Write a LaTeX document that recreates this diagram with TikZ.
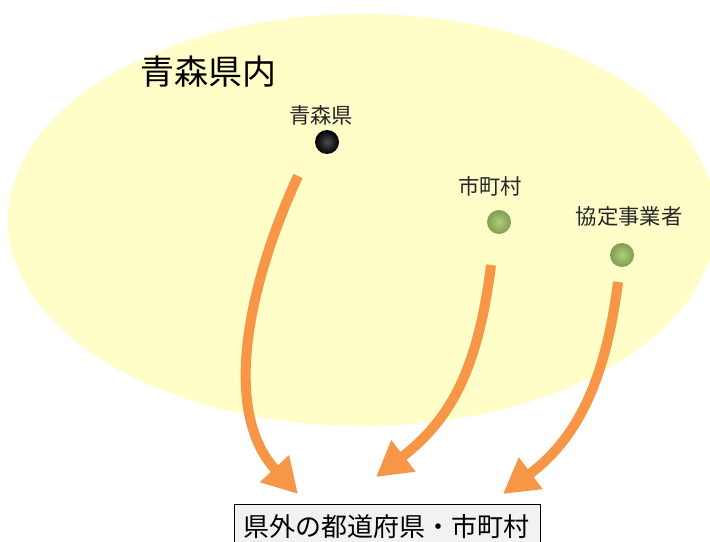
\documentclass[tikz,border=0pt]{standalone}
\usepackage{fontspec}
\setmainfont{Noto Sans CJK JP}
\usetikzlibrary{arrows.meta,shadows}
\definecolor{areafill}{RGB}{255,253,200}
\definecolor{arroworange}{RGB}{247,150,70}
\definecolor{dotgreen}{RGB}{150,186,90}
\definecolor{boxfill}{RGB}{242,242,242}
\tikzset{
  flowarrow/.style={draw=arroworange, line width=7.5pt,
    -{Triangle[length=26pt,width=28pt]}},
  dotlabel/.style={font=\fontsize{16}{16}\selectfont, text=black!85},
  greendot/.style={circle, minimum size=18pt, inner sep=0pt, inner color=dotgreen!75!white, outer color=dotgreen!85!black},
  blackdot/.style={circle, minimum size=18pt, inner sep=0pt, inner color=black!70, outer color=black},
}
\begin{document}
\begin{tikzpicture}[x=0.75pt,y=-0.75pt]
\useasboundingbox (0,0) rectangle (710,542);
\fill[areafill] (362,220) ellipse [x radius=354, y radius=206];
\node[anchor=west, font=\fontsize{25.5}{26}\selectfont] (title) at (136,72) {青森県内};
\node[blackdot] (pref) at (327,142) {};
\node[dotlabel] (preflabel) at (321,115) {青森県};
\node[greendot] (muni) at (499,222) {};
\node[dotlabel] (munilabel) at (490,186) {市町村};
\node[greendot] (biz) at (622,255) {};
\node[dotlabel] (bizlabel) at (629,216) {協定事業者};
\node[draw=black, fill=boxfill, line width=0.8pt, minimum width=229.5pt, minimum height=34pt, inner sep=0pt, anchor=north west] (dest) at (234,504) {};
\node[font=\fontsize{19.5}{20}\selectfont] (desttext) at (386,527) {県外の都道府県・市町村};
\coordinate (s1) at (298,176);
\coordinate (e1) at (298,494);
\coordinate (s2) at (491,265);
\coordinate (e2) at (376,477);
\coordinate (s3) at (618,282);
\coordinate (e3) at (503,494);
\draw[flowarrow] (s1) .. controls (250,280) and (220,410) .. (e1);
\draw[flowarrow] (s2) .. controls (478,370) and (450,420) .. (e2);
\draw[flowarrow] (s3) .. controls (605,385) and (575,440) .. (e3);
\end{tikzpicture}
\end{document}
